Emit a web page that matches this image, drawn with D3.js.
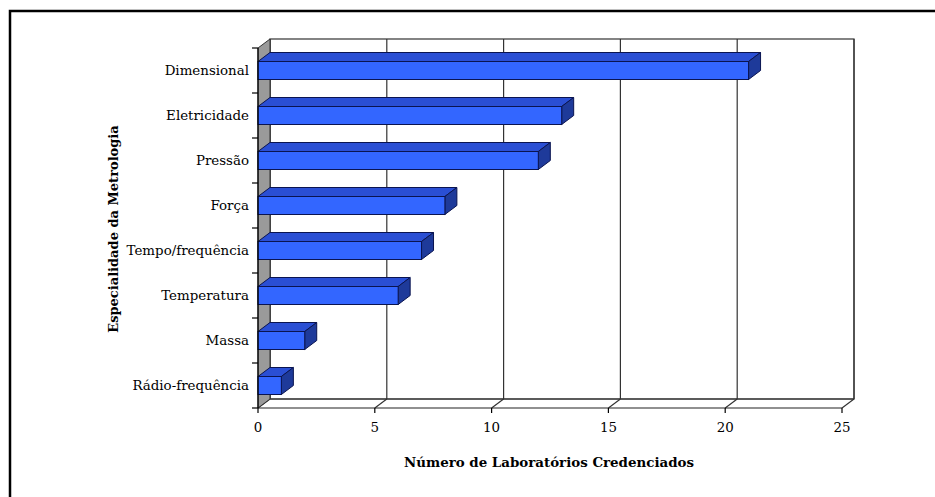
<!DOCTYPE html>
<html>
<head>
<meta charset="utf-8">
<script src="https://cdn.jsdelivr.net/npm/d3@7/dist/d3.min.js"></script>
<style>
  html, body { margin: 0; padding: 0; background: #fff; }
  svg { display: block; }
  text { font-family: "DejaVu Serif", "Liberation Serif", serif; fill: #000; }
</style>
</head>
<body>
<svg id="chart" width="935" height="497"></svg>
<script>
// Especialidades e número de laboratórios credenciados
const categories = ["Dimensional", "Eletricidade", "Pressão", "Força",
  "Tempo/frequência", "Temperatura", "Massa", "Rádio-frequência"];
const values = [21, 13, 12, 8, 7, 6, 2, 1];
const ticks = [0, 5, 10, 15, 20, 25];
const xTitle = "Número de Laboratórios Credenciados";
const yTitle = "Especialidade da Metrologia";

const svg = d3.select("#chart");

// moldura externa (topo e esquerda)
svg.append("path")
  .attr("d", "M10,497 L10,11 L935,11")
  .attr("fill", "none").attr("stroke", "#000").attr("stroke-width", 2.5);

// plano frontal do gráfico e deslocamento de profundidade
const plotLeft = 258, plotRight = 842, plotTop = 48, plotBottom = 408;
const dx = 12, dy = -9;

const x = d3.scaleLinear().domain([0, 25]).range([plotLeft, plotRight]);
const y = d3.scaleBand().domain(categories).range([plotTop, plotBottom]).paddingInner(0.6).paddingOuter(0.3);
const yEdges = d3.scaleLinear().domain([0, categories.length]).range([plotTop, plotBottom]);

const g = svg.append("g");

// parede de fundo
g.append("rect")
  .attr("x", plotLeft + dx).attr("y", plotTop + dy)
  .attr("width", plotRight - plotLeft).attr("height", plotBottom - plotTop)
  .attr("fill", "#fff").attr("stroke", "#333").attr("stroke-width", 1.2);

// linhas de grade verticais na parede e no piso
ticks.forEach(t => {
  g.append("line")
    .attr("x1", x(t) + dx).attr("x2", x(t) + dx)
    .attr("y1", plotTop + dy).attr("y2", plotBottom + dy)
    .attr("stroke", "#333").attr("stroke-width", 1.2);
  g.append("line")
    .attr("x1", x(t)).attr("y1", plotBottom)
    .attr("x2", x(t) + dx).attr("y2", plotBottom + dy)
    .attr("stroke", "#333").attr("stroke-width", 1.2);
});

// parede lateral cinza
g.append("path")
  .attr("d", `M${plotLeft},${plotTop} L${plotLeft + dx},${plotTop + dy} L${plotLeft + dx},${plotBottom + dy} L${plotLeft},${plotBottom} Z`)
  .attr("fill", "#9a9a9a").attr("stroke", "#333").attr("stroke-width", 1);

// borda do piso
g.append("line")
  .attr("x1", plotLeft).attr("y1", plotBottom).attr("x2", plotRight).attr("y2", plotBottom)
  .attr("stroke", "#222").attr("stroke-width", 1.2);
g.append("line")
  .attr("x1", plotLeft + dx).attr("y1", plotBottom + dy).attr("x2", plotRight + dx).attr("y2", plotBottom + dy)
  .attr("stroke", "#333").attr("stroke-width", 1.2);

// barras 3D
const bars = g.selectAll("g.bar").data(categories.map((c, i) => ({ c, v: values[i] })))
  .enter().append("g").attr("class", "bar");

bars.append("path") // face superior
  .attr("d", d => {
    const y0 = y(d.c), x0 = x(0), x1 = x(d.v);
    return `M${x0},${y0} L${x1},${y0} L${x1 + dx},${y0 + dy} L${x0 + dx},${y0 + dy} Z`;
  })
  .attr("fill", "#2a4fd4").attr("stroke", "#0a1450").attr("stroke-width", 1);

bars.append("path") // face lateral
  .attr("d", d => {
    const y0 = y(d.c), y1 = y0 + y.bandwidth(), x1 = x(d.v);
    return `M${x1},${y0} L${x1 + dx},${y0 + dy} L${x1 + dx},${y1 + dy} L${x1},${y1} Z`;
  })
  .attr("fill", "#1e3a9a").attr("stroke", "#0a1450").attr("stroke-width", 1);

bars.append("rect") // face frontal
  .attr("x", x(0)).attr("y", d => y(d.c))
  .attr("width", d => x(d.v) - x(0)).attr("height", y.bandwidth())
  .attr("fill", "#3366ff").attr("stroke", "#0a1450").attr("stroke-width", 1);

// eixo das categorias
g.append("line")
  .attr("x1", plotLeft).attr("y1", plotTop).attr("x2", plotLeft).attr("y2", plotBottom)
  .attr("stroke", "#000").attr("stroke-width", 1.2);
d3.range(categories.length + 1).forEach(i => {
  g.append("line")
    .attr("x1", plotLeft - 6).attr("x2", plotLeft)
    .attr("y1", yEdges(i)).attr("y2", yEdges(i))
    .attr("stroke", "#000").attr("stroke-width", 1.2);
});
g.selectAll("text.cat").data(categories).enter().append("text")
  .attr("class", "cat")
  .attr("x", plotLeft - 9)
  .attr("y", d => y(d) + y.bandwidth() / 2)
  .attr("dy", "0.35em")
  .attr("text-anchor", "end")
  .attr("font-size", 13.4)
  .text(d => d);

// eixo dos valores
ticks.forEach(t => {
  g.append("line")
    .attr("x1", x(t)).attr("x2", x(t))
    .attr("y1", plotBottom).attr("y2", plotBottom + 5)
    .attr("stroke", "#000").attr("stroke-width", 1.2);
});
g.selectAll("text.tick").data(ticks).enter().append("text")
  .attr("class", "tick")
  .attr("x", d => x(d))
  .attr("y", plotBottom + 24)
  .attr("text-anchor", "middle")
  .attr("font-size", 13.4)
  .text(d => d);

// títulos dos eixos
svg.append("text")
  .attr("x", 549).attr("y", 467)
  .attr("text-anchor", "middle")
  .attr("font-size", 13.4).attr("font-weight", "bold")
  .text(xTitle);

svg.append("text")
  .attr("transform", "translate(118,229) rotate(-90)")
  .attr("text-anchor", "middle")
  .attr("font-size", 13).attr("font-weight", "bold")
  .text(yTitle);
</script>
</body>
</html>
